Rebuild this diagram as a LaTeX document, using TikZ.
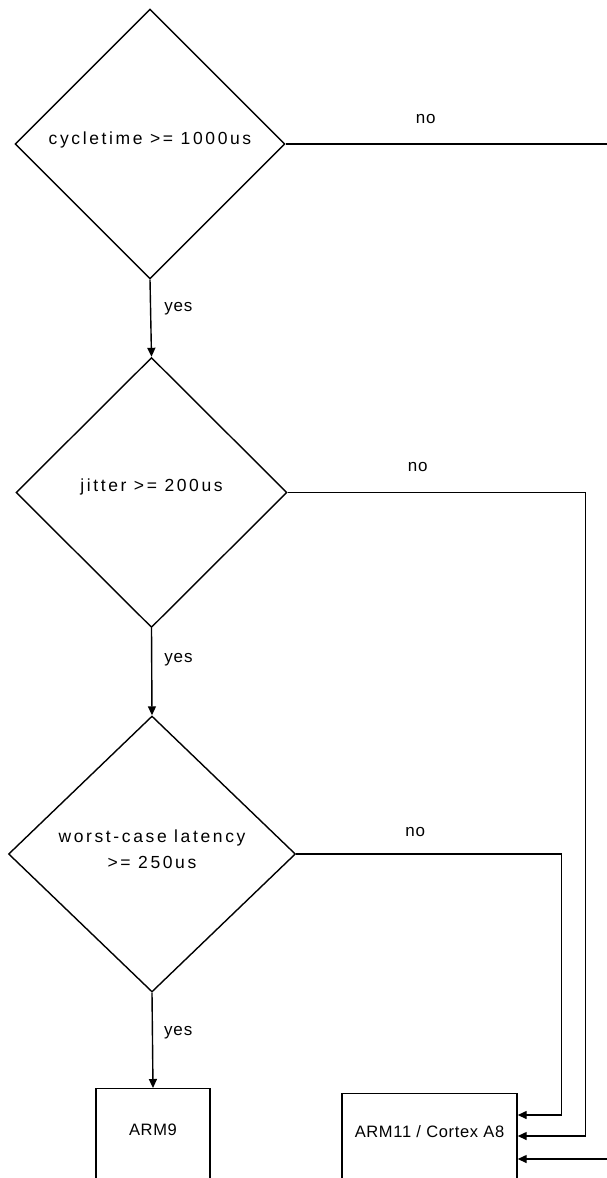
\documentclass[tikz,border=0pt]{standalone}
\usepackage{fontspec}
\setmainfont{Liberation Sans}
\newfontfamily\dfont[LetterSpace=15]{Liberation Sans}
\newfontfamily\lfont[LetterSpace=5]{Liberation Sans}
\newfontfamily\bfont[LetterSpace=4]{Liberation Sans}
\usetikzlibrary{shapes.geometric,arrows.meta,calc}
\begin{document}
\begin{tikzpicture}[x=1pt,y=-1pt,
  dia/.style={draw, diamond, line width=1.4pt, inner sep=0pt},
  dtxt/.style={font=\dfont\fontsize{17.5}{26}\selectfont, align=center, inner sep=0pt},
  lbl/.style={font=\lfont\fontsize{17}{20}\selectfont, inner sep=0pt},
  boxn/.style={draw, rectangle, line width=1.4pt, inner sep=0pt},
  btxt/.style={font=\bfont\fontsize{16.5}{20}\selectfont, inner sep=0pt},
  conn/.style={line width=1.4pt},
  arr/.style={conn, -{Triangle[length=9pt,width=8pt]}}]
\useasboundingbox (0,0) rectangle (607,1178);
\clip (0,0) rectangle (607,1178);
% decisions
\node[dia, minimum width=270pt, minimum height=270pt,
  label={[dtxt,yshift=4.5pt]center:cycletime >= 1000us}] (d1) at (150,144) {};
\node[dia, minimum width=271pt, minimum height=270pt,
  label={[dtxt,yshift=5.5pt]center:jitter >= 200us}] (d2) at (151.5,492.5) {};
\node[dia, minimum width=287pt, minimum height=276pt,
  label={[dtxt,yshift=5pt]center:worst-case latency\\>= 250us}] (d3) at (152,854) {};
% results
\node[boxn, minimum width=114pt, minimum height=180pt, anchor=north,
  label={[btxt,anchor=center,yshift=-42pt]north:ARM9}] (arm9) at (153,1088) {};
\node[boxn, minimum width=175pt, minimum height=180pt, anchor=north,
  label={[btxt,anchor=center,yshift=-39pt]north:ARM11 / Cortex A8}] (arm11) at (429.5,1093) {};
\coordinate (in1) at ($(arm11.north east)+(0,22)$);
\coordinate (in2) at ($(arm11.north east)+(0,43)$);
\coordinate (in3) at ($(arm11.north east)+(0,66)$);
% yes connectors
\draw[arr] (d1.south) -- node[lbl, anchor=west, pos=0.38, xshift=13pt] (y1) {yes} (d2.north);
\draw[arr] (d2.south) -- node[lbl, anchor=west, pos=0.36, xshift=12pt] (y2) {yes} (d3.north);
\draw[arr] (d3.south) -- node[lbl, anchor=west, pos=0.42, xshift=11pt] (y3) {yes} (arm9.north);
% no connectors
\draw[arr] (d3.east) -| ([xshift=44pt]in1) -- (in1);
\draw[arr] (d2.east) -| ([xshift=68pt]in2) -- (in2);
\draw[arr] (d1.east) -| ([xshift=120pt]in3) -- (in3);
\node[lbl] (n1) at ($(d1.east)+(140,-25)$) {no};
\node[lbl] (n2) at ($(d2.east)+(130,-25)$) {no};
\node[lbl] (n3) at ($(d3.east)+(119,-22)$) {no};
\end{tikzpicture}
\end{document}
